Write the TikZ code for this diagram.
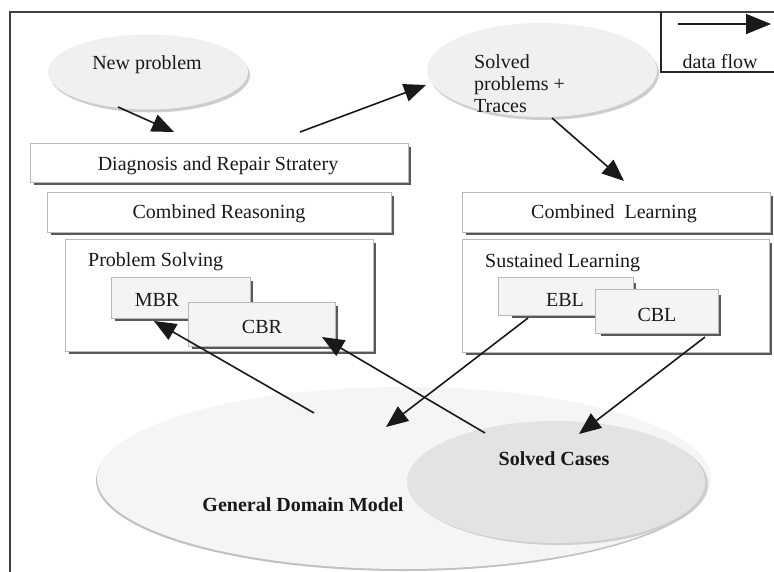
\documentclass[tikz,border=0pt]{standalone}
\usepackage{fontspec}
\setmainfont{Liberation Serif}
\usetikzlibrary{arrows.meta,shapes.geometric,shadows}
\begin{document}
\begin{tikzpicture}[x=1pt,y=-1pt,
  txt/.style={font=\fontsize{20}{22}\selectfont, inner sep=0pt, text=black!90},
  btxt/.style={txt, font=\fontsize{20}{22}\selectfont\bfseries},
  bx/.style={draw=gray!55, line width=0.9pt, fill=white, inner sep=0pt},
  sub/.style={bx, fill=gray!9},
  shline/.style={line width=2.4pt, black!65},
  ell/.style={ellipse, inner sep=0pt, draw=none},
  flow/.style={line width=1.6pt, black!90, -{Triangle[length=22pt,width=18pt]}},
  frame/.style={line width=2pt, black!75}
]
\useasboundingbox (0,0) rectangle (774,571);
\fill[white] (0,0) rectangle (774,571);

% outer frame and legend
\draw[frame] (10,575) -- (10,12) -- (780,12);
\draw[line width=1.2pt, black!85] (780,72) -- (661,72) -- (661,12);
\coordinate (lgs) at (678,24);
\coordinate (lge) at (771,24);
\draw[flow, -{Triangle[length=25pt,width=20pt]}] (lgs) -- (lge);
\node[txt] (lgt) at (720,62) {data flow};

% top ellipses
\node[ell, fill=gray!12, minimum width=200pt, minimum height=75pt,
  drop shadow={shadow xshift=2pt, shadow yshift=-3pt, fill=gray!55, opacity=0.7}] (np) at (148,72) {};
\node[txt] (npt) at (147,65) {New problem};
\node[ell, fill=gray!12, minimum width=230pt, minimum height=94pt,
  drop shadow={shadow xshift=2pt, shadow yshift=-3pt, fill=gray!55, opacity=0.7}] (sp) at (542,70) {};
\node[txt, anchor=west, align=left] (spt) at (474,84) {Solved\\problems +\\Traces};

% left boxes
\node[bx, minimum width=378pt, minimum height=39pt] (diag) at (219,162.5) {};
\draw[shline] ([shift={(4pt,-1.5pt)}]diag.south west) -- ([shift={(1.5pt,-1.5pt)}]diag.south east) -- ([shift={(1.5pt,-4pt)}]diag.north east);
\node[txt] (diagt) at (218,166) {Diagnosis and Repair Stratery};

\node[bx, minimum width=344pt, minimum height=40pt] (combR) at (219,212) {};
\draw[shline] ([shift={(4pt,-1.5pt)}]combR.south west) -- ([shift={(1.5pt,-1.5pt)}]combR.south east) -- ([shift={(1.5pt,-4pt)}]combR.north east);
\node[txt] (combRt) at (219,214) {Combined Reasoning};

\node[bx, minimum width=308pt, minimum height=112pt] (ps) at (219,295) {};
\draw[shline] ([shift={(4pt,-1.5pt)}]ps.south west) -- ([shift={(1.5pt,-1.5pt)}]ps.south east) -- ([shift={(1.5pt,-4pt)}]ps.north east);
\node[txt, anchor=west] (pst) at (88,262) {Problem Solving};

\node[sub, minimum width=139pt, minimum height=41pt] (mbr) at (180.5,297.5) {};
\draw[shline] ([shift={(4pt,-1.5pt)}]mbr.south west) -- ([shift={(1.5pt,-1.5pt)}]mbr.south east) -- ([shift={(1.5pt,-4pt)}]mbr.north east);
\node[txt] (mbrt) at (157,300) {MBR};

\node[sub, minimum width=147pt, minimum height=44pt] (cbr) at (261.5,324) {};
\draw[shline] ([shift={(4pt,-1.5pt)}]cbr.south west) -- ([shift={(1.5pt,-1.5pt)}]cbr.south east) -- ([shift={(1.5pt,-4pt)}]cbr.north east);
\node[txt] (cbrt) at (262,327) {CBR};

% right boxes
\node[bx, minimum width=308pt, minimum height=40pt] (combL) at (616,212) {};
\draw[shline] ([shift={(4pt,-1.5pt)}]combL.south west) -- ([shift={(1.5pt,-1.5pt)}]combL.south east) -- ([shift={(1.5pt,-4pt)}]combL.north east);
\node[txt] (combLt) at (614,214) {Combined\ \ Learning};

\node[bx, minimum width=307pt, minimum height=113pt] (sl) at (615.5,295.5) {};
\draw[shline] ([shift={(4pt,-1.5pt)}]sl.south west) -- ([shift={(1.5pt,-1.5pt)}]sl.south east) -- ([shift={(1.5pt,-4pt)}]sl.north east);
\node[txt, anchor=west] (slt) at (485,263) {Sustained Learning};

\node[sub, minimum width=135pt, minimum height=38pt] (ebl) at (565.5,296) {};
\draw[shline] ([shift={(14pt,-1.5pt)}]ebl.south west) -- ([shift={(1.5pt,-1.5pt)}]ebl.south east) -- ([shift={(1.5pt,-6pt)}]ebl.north east);
\node[txt] (eblt) at (565,300) {EBL};

\node[sub, minimum width=123pt, minimum height=44pt] (cbl) at (656.5,311) {};
\draw[shline] ([shift={(6pt,-1.5pt)}]cbl.south west) -- ([shift={(1.5pt,-1.5pt)}]cbl.south east) -- ([shift={(1.5pt,-6pt)}]cbl.north east);
\node[txt] (cblt) at (657,315) {CBL};

% bottom ellipses
\node[ell, fill=gray!8, minimum width=614pt, minimum height=182pt,
  drop shadow={shadow xshift=-1pt, shadow yshift=-2pt, fill=gray!60, opacity=0.8}] (gdm) at (404,478) {};
\node[ell, fill=gray!22, minimum width=298pt, minimum height=122pt,
  drop shadow={shadow xshift=3pt, shadow yshift=-2pt, fill=gray!45, opacity=0.8}] (sc) at (556,482) {};
\node[btxt] (gdmt) at (303,505) {General Domain Model};
\node[btxt] (sct) at (554,459) {Solved Cases};

% data flow connectors
\coordinate (a1s) at (118,107);  \coordinate (a1e) at (174,132);
\coordinate (a2s) at (300,132);  \coordinate (a2e) at (426,85);
\coordinate (a3s) at (552,118);  \coordinate (a3e) at (624,181);
\coordinate (a4s) at (314,413);  \coordinate (a4e) at (154,321);
\coordinate (a5s) at (485,433);  \coordinate (a5e) at (322,337);
\coordinate (a6s) at (528,318);  \coordinate (a6e) at (386,427);
\coordinate (a7s) at (705,337);  \coordinate (a7e) at (579,434);
\draw[flow] (a1s) -- (a1e);
\draw[flow] (a2s) -- (a2e);
\draw[flow] (a3s) -- (a3e);
\draw[flow] (a4s) -- (a4e);
\draw[flow] (a5s) -- (a5e);
\draw[flow] (a6s) -- (a6e);
\draw[flow] (a7s) -- (a7e);
\end{tikzpicture}
\end{document}
